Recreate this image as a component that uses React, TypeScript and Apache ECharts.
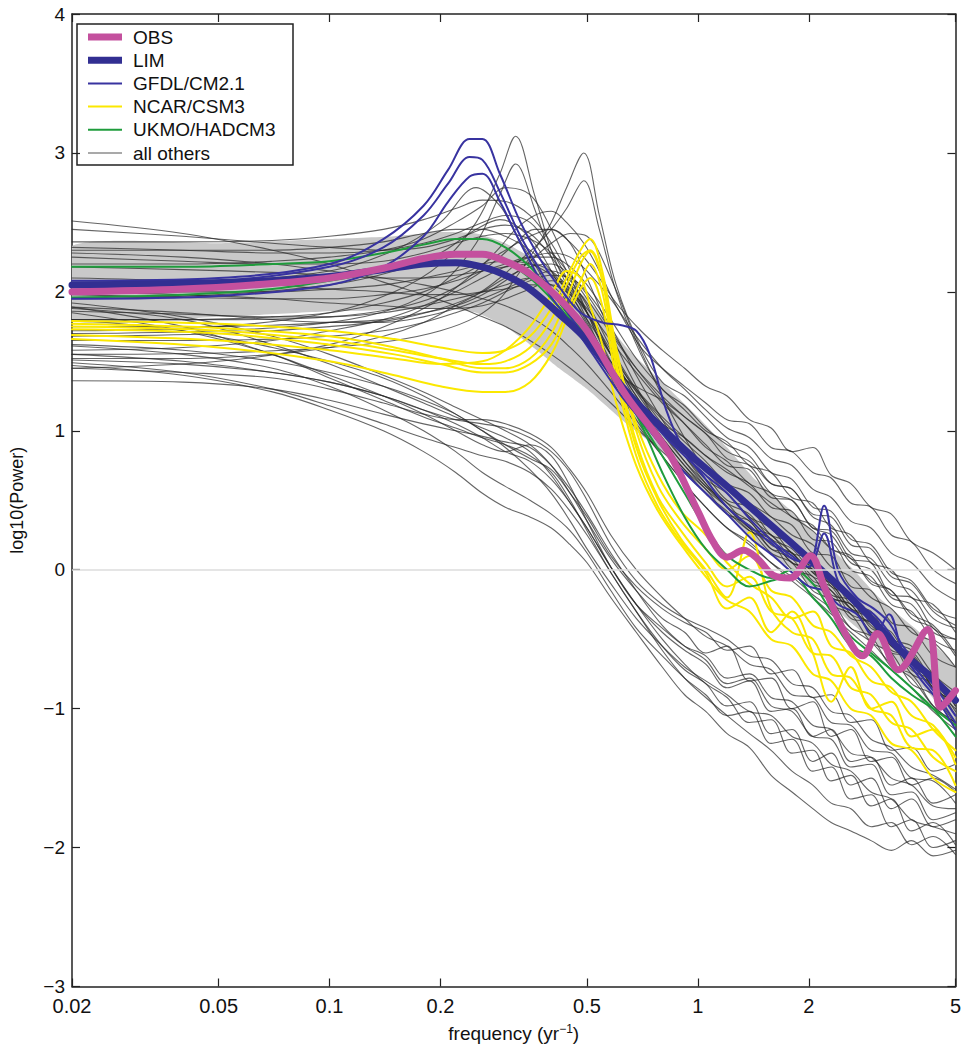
import React, { useEffect, useRef } from 'react';
import * as echarts from 'echarts';

const FONT = "'Liberation Sans', Arial, Helvetica, sans-serif";

const X_TICKS = [0.02, 0.05, 0.1, 0.2, 0.5, 1, 2, 5];

// common frequency grid for most model curves
const F = [0.02, 0.04, 0.07, 0.1, 0.14, 0.18, 0.22, 0.26, 0.3, 0.35, 0.4, 0.45, 0.5, 0.58, 0.68, 0.8, 0.92, 1.05, 1.2, 1.38, 1.58, 1.8, 2.05, 2.3, 2.6, 2.95, 3.35, 3.8, 4.35, 5.0];
// grid for peaked "other" curves
const FP = [0.02, 0.05, 0.1, 0.15, 0.2, 0.25, 0.29, 0.32, 0.36, 0.4, 0.44, 0.49, 0.54, 0.6, 0.7, 0.8, 0.92, 1.05, 1.2, 1.38, 1.58, 1.8, 2.05, 2.3, 2.6, 2.95, 3.35, 3.8, 4.35, 5.0];
// grid for GFDL curves
const FG = [0.02, 0.05, 0.1, 0.14, 0.18, 0.21, 0.24, 0.26, 0.29, 0.33, 0.38, 0.43, 0.48, 0.55, 0.62, 0.68, 0.74, 0.82, 0.92, 1.05, 1.2, 1.4, 1.6, 1.8, 2.0, 2.2, 2.4, 2.7, 3.0, 3.3, 3.6, 4.0, 4.5, 5.0];
// grid for NCAR curves
const FY = [0.02, 0.05, 0.1, 0.15, 0.2, 0.26, 0.3, 0.35, 0.4, 0.44, 0.48, 0.51, 0.55, 0.6, 0.68, 0.78, 0.9, 1.05, 1.2, 1.38, 1.58, 1.8, 2.05, 2.3, 2.6, 2.95, 3.35, 3.8, 4.35, 5.0];

const OBS_F = [0.02, 0.04, 0.07, 0.1, 0.14, 0.18, 0.22, 0.26, 0.3, 0.35, 0.42, 0.5, 0.64, 0.83, 1.0, 1.1, 1.2, 1.33, 1.45, 1.6, 1.78, 2.02, 2.2, 2.5, 2.8, 3.07, 3.5, 4.2, 4.56, 5.0];
const OBS_V = [2.0, 2.02, 2.06, 2.1, 2.17, 2.24, 2.27, 2.27, 2.22, 2.13, 1.95, 1.72, 1.25, 0.85, 0.42, 0.2, 0.09, 0.14, 0.08, -0.04, -0.06, 0.1, -0.12, -0.45, -0.62, -0.46, -0.72, -0.43, -0.99, -0.87];

const LIM_F = [0.02, 0.04, 0.07, 0.1, 0.14, 0.18, 0.22, 0.26, 0.3, 0.35, 0.42, 0.5, 0.64, 0.8, 0.96, 1.2, 1.43, 1.78, 2.2, 2.6, 3.07, 3.6, 4.2, 5.0];
const LIM_V = [2.05, 2.06, 2.08, 2.11, 2.16, 2.2, 2.21, 2.18, 2.12, 2.02, 1.84, 1.65, 1.28, 1.02, 0.82, 0.6, 0.42, 0.2, -0.02, -0.2, -0.4, -0.6, -0.75, -0.94];

const BAND_F = [0.02, 0.05, 0.1, 0.15, 0.2, 0.25, 0.3, 0.35, 0.42, 0.5, 0.64, 0.8, 1.0, 1.2, 1.43, 1.8, 2.2, 2.6, 3.1, 3.6, 4.2, 5.0];
const BAND_LO = [1.8, 1.82, 1.86, 1.87, 1.88, 1.85, 1.75, 1.62, 1.45, 1.3, 1.05, 0.85, 0.6, 0.4, 0.2, 0.0, -0.2, -0.38, -0.55, -0.72, -0.88, -1.1];
const BAND_HI = [2.33, 2.35, 2.38, 2.4, 2.43, 2.42, 2.35, 2.25, 2.1, 1.95, 1.6, 1.35, 1.1, 0.88, 0.65, 0.42, 0.2, 0.02, -0.2, -0.35, -0.5, -0.7];

const GFDL_1 = [2.08, 2.1, 2.2, 2.38, 2.62, 2.88, 3.1, 3.1, 2.85, 2.5, 2.2, 2.0, 1.85, 1.78, 1.76, 1.72, 1.55, 1.15, 0.85, 0.65, 0.45, 0.3, 0.18, 0.08, 0.05, 0.46, 0.0, -0.2, -0.28, -0.38, -0.55, -0.7, -0.88, -1.05];
const GFDL_2 = [2.06, 2.08, 2.18, 2.32, 2.55, 2.78, 2.97, 2.95, 2.72, 2.4, 2.12, 1.9, 1.72, 1.5, 1.3, 1.18, 1.08, 0.95, 0.82, 0.68, 0.55, 0.35, 0.2, 0.1, 0.02, 0.26, -0.08, -0.25, -0.32, -0.45, -0.6, -0.75, -0.92, -1.1];
const GFDL_3 = [1.95, 1.97, 2.05, 2.18, 2.4, 2.65, 2.83, 2.85, 2.65, 2.35, 2.05, 1.85, 1.68, 1.45, 1.25, 1.12, 1.0, 0.85, 0.7, 0.55, 0.4, 0.22, 0.1, -0.02, -0.12, -0.15, -0.25, -0.32, -0.48, -0.32, -0.6, -0.78, -0.95, -1.15];

const NCAR_1 = [1.79, 1.77, 1.72, 1.66, 1.6, 1.56, 1.58, 1.68, 1.88, 2.1, 2.3, 2.38, 2.15, 1.6, 1.0, 0.6, 0.35, 0.15, 0.0, 0.1, -0.15, -0.2, -0.4, -0.45, -0.62, -0.7, -0.88, -0.95, -1.15, -1.3];
const NCAR_2 = [1.77, 1.74, 1.68, 1.6, 1.52, 1.45, 1.45, 1.52, 1.7, 1.95, 2.2, 2.29, 2.08, 1.5, 0.92, 0.52, 0.28, 0.05, -0.12, -0.05, -0.3, -0.35, -0.6, -0.62, -0.85, -0.9, -1.1, -1.15, -1.35, -1.45];
const NCAR_3 = [1.73, 1.7, 1.62, 1.55, 1.48, 1.42, 1.42, 1.48, 1.62, 1.85, 2.08, 2.2, 2.0, 1.45, 0.88, 0.5, 0.22, 0.0, -0.2, 0.27, -0.28, -0.45, -0.5, -0.75, -0.78, -1.0, -1.05, -1.28, -1.3, -1.55];
const NCAR_4 = [1.69, 1.65, 1.58, 1.52, 1.48, 1.5, 1.58, 1.75, 1.98, 2.15, 2.1, 1.9, 1.62, 1.2, 0.75, 0.42, 0.18, -0.05, -0.22, -0.3, -0.5, -0.55, -0.75, -0.8, -1.0, -1.05, -1.25, -1.3, -1.5, -1.6];
const NCAR_5 = [1.66, 1.6, 1.5, 1.4, 1.32, 1.28, 1.28, 1.35, 1.55, 1.8, 2.02, 2.1, 1.9, 1.38, 0.82, 0.45, 0.2, -0.02, -0.28, -0.2, -0.45, -0.3, -0.6, -0.95, -0.7, -1.0, -0.95, -1.2, -1.15, -1.4];
const NCAR_6 = [1.75, 1.72, 1.65, 1.58, 1.52, 1.48, 1.5, 1.6, 1.8, 2.05, 2.25, 2.3, 2.1, 1.55, 1.05, 0.68, 0.42, 0.25, 0.05, -0.1, -0.2, -0.35, -0.3, -0.55, -0.6, -0.8, -0.85, -1.05, -1.12, -1.35];

const UKMO_1 = [2.18, 2.18, 2.2, 2.22, 2.28, 2.34, 2.38, 2.38, 2.32, 2.18, 2.0, 1.82, 1.68, 1.42, 1.12, 0.7, 0.38, 0.15, 0.0, -0.12, -0.08, -0.04, -0.2, -0.35, -0.55, -0.62, -0.78, -0.9, -1.0, -1.12];
const UKMO_2 = [1.96, 1.98, 2.02, 2.08, 2.15, 2.22, 2.27, 2.28, 2.22, 2.1, 1.95, 1.8, 1.65, 1.4, 1.12, 0.82, 0.55, 0.3, 0.1, 0.0, -0.06, 0.0, -0.1, -0.3, -0.48, -0.6, -0.72, -0.85, -1.0, -1.2];

// other models, lower (steeply falling) group, on grid F
const LOW_1 = [1.88, 1.8, 1.62, 1.48, 1.32, 1.2, 1.1, 1.02, 0.95, 0.85, 0.68, 0.48, 0.3, 0.02, -0.25, -0.45, -0.58, -0.68, -0.85, -0.8, -1.02, -1.0, -1.2, -1.15, -1.38, -1.35, -1.55, -1.5, -1.68, -1.62];
const LOW_2 = [1.92, 1.82, 1.68, 1.55, 1.4, 1.28, 1.17, 1.08, 1.0, 0.9, 0.75, 0.55, 0.35, 0.08, -0.15, -0.35, -0.45, -0.6, -0.55, -0.8, -0.78, -1.0, -0.95, -1.2, -1.15, -1.38, -1.35, -1.55, -1.5, -1.6];
const LOW_3 = [1.85, 1.72, 1.55, 1.38, 1.22, 1.1, 1.02, 0.95, 0.9, 0.82, 0.7, 0.5, 0.28, -0.02, -0.3, -0.55, -0.72, -0.82, -0.98, -0.95, -1.18, -1.15, -1.38, -1.32, -1.55, -1.5, -1.72, -1.65, -1.85, -1.8];
const LOW_4 = [1.36, 1.35, 1.3, 1.22, 1.12, 1.05, 1.0, 0.96, 0.92, 0.88, 0.75, 0.58, 0.4, 0.12, -0.15, -0.4, -0.55, -0.65, -0.82, -0.78, -0.98, -1.02, -1.2, -1.22, -1.42, -1.4, -1.62, -1.6, -1.8, -1.75];
const LOW_5 = [1.47, 1.4, 1.28, 1.15, 1.0, 0.85, 0.7, 0.55, 0.45, 0.38, 0.3, 0.18, 0.05, -0.2, -0.45, -0.7, -0.9, -1.02, -1.18, -1.28, -1.48, -1.6, -1.72, -1.82, -1.88, -1.95, -2.02, -1.95, -2.06, -2.02];
const LOW_6 = [1.49, 1.42, 1.3, 1.18, 1.05, 0.95, 0.88, 0.82, 0.78, 0.7, 0.58, 0.42, 0.25, -0.02, -0.3, -0.58, -0.78, -0.92, -1.05, -1.18, -1.3, -1.45, -1.55, -1.68, -1.72, -1.85, -1.82, -1.98, -1.92, -2.05];
const LOW_7 = [1.51, 1.48, 1.42, 1.35, 1.25, 1.15, 1.05, 0.95, 0.85, 0.78, 0.65, 0.48, 0.3, 0.02, -0.25, -0.5, -0.68, -0.82, -0.92, -1.1, -1.08, -1.32, -1.3, -1.52, -1.48, -1.7, -1.65, -1.88, -1.82, -1.98];
const LOW_8 = [1.61, 1.55, 1.45, 1.32, 1.15, 1.0, 0.85, 0.7, 0.6, 0.5, 0.4, 0.28, 0.12, -0.15, -0.42, -0.62, -0.78, -0.9, -1.05, -1.02, -1.25, -1.22, -1.45, -1.42, -1.65, -1.62, -1.85, -1.8, -2.0, -1.95];
const LOW_9 = [1.89, 1.75, 1.55, 1.4, 1.25, 1.12, 1.0, 0.9, 0.85, 0.9, 0.82, 0.6, 0.35, 0.02, -0.25, -0.42, -0.55, -0.62, -0.78, -0.75, -0.92, -0.95, -1.12, -1.15, -1.32, -1.35, -1.5, -1.55, -1.7, -1.72];
const LOW_10 = [1.8, 1.72, 1.6, 1.5, 1.38, 1.25, 1.12, 1.0, 0.9, 0.8, 0.72, 0.55, 0.38, 0.1, -0.12, -0.28, -0.38, -0.45, -0.58, -0.55, -0.75, -0.72, -0.92, -0.9, -1.1, -1.08, -1.3, -1.28, -1.45, -1.4];
const LOW_11 = [1.55, 1.5, 1.42, 1.35, 1.25, 1.15, 1.08, 1.05, 1.02, 0.95, 0.85, 0.7, 0.5, 0.18, -0.08, -0.25, -0.35, -0.42, -0.5, -0.62, -0.65, -0.82, -0.85, -1.02, -1.05, -1.22, -1.28, -1.42, -1.48, -1.58];
const LOW_12 = [1.45, 1.42, 1.38, 1.3, 1.2, 1.12, 1.08, 1.08, 1.05, 0.98, 0.88, 0.72, 0.55, 0.25, 0.0, -0.2, -0.35, -0.48, -0.55, -0.68, -0.72, -0.9, -0.92, -1.1, -1.12, -1.3, -1.32, -1.5, -1.52, -1.68];
const LOW_13 = [1.62, 1.58, 1.5, 1.42, 1.32, 1.22, 1.12, 1.0, 0.88, 0.72, 0.55, 0.35, 0.15, -0.1, -0.35, -0.55, -0.7, -0.8, -0.9, -1.02, -1.05, -1.2, -1.25, -1.4, -1.45, -1.6, -1.65, -1.8, -1.85, -1.9];

// other models, middle group, on grid F
const MID_1 = [2.51, 2.42, 2.3, 2.2, 2.07, 1.98, 1.9, 1.82, 1.75, 1.65, 1.55, 1.45, 1.35, 1.2, 1.02, 0.85, 0.7, 0.55, 0.4, 0.32, 0.15, 0.08, -0.1, -0.15, -0.35, -0.38, -0.6, -0.62, -0.85, -0.95];
const MID_2 = [2.45, 2.4, 2.35, 2.32, 2.3, 2.32, 2.38, 2.45, 2.48, 2.42, 2.25, 2.05, 1.85, 1.55, 1.25, 0.98, 0.78, 0.62, 0.45, 0.35, 0.18, 0.12, -0.05, -0.1, -0.28, -0.32, -0.5, -0.55, -0.75, -0.88];
const MID_3 = [2.36, 2.36, 2.37, 2.4, 2.45, 2.52, 2.6, 2.66, 2.65, 2.55, 2.35, 2.1, 1.85, 1.5, 1.2, 0.95, 0.75, 0.6, 0.48, 0.3, 0.25, 0.08, 0.02, -0.18, -0.22, -0.42, -0.48, -0.7, -0.78, -0.98];
const MID_4 = [2.32, 2.3, 2.28, 2.28, 2.3, 2.35, 2.42, 2.5, 2.55, 2.5, 2.3, 2.05, 1.8, 1.45, 1.15, 0.9, 0.72, 0.55, 0.42, 0.28, 0.22, 0.05, 0.0, -0.2, -0.25, -0.45, -0.52, -0.75, -0.82, -1.05];
const MID_5 = [2.2, 2.2, 2.22, 2.25, 2.3, 2.38, 2.5, 2.62, 2.75, 2.7, 2.45, 2.15, 1.85, 1.48, 1.18, 0.92, 0.72, 0.58, 0.4, 0.35, 0.15, 0.12, -0.08, -0.12, -0.32, -0.38, -0.58, -0.62, -0.85, -0.95];
const MID_6 = [2.18, 2.16, 2.14, 2.12, 2.1, 2.1, 2.12, 2.15, 2.18, 2.2, 2.15, 2.02, 1.85, 1.55, 1.25, 1.0, 0.82, 0.68, 0.5, 0.45, 0.25, 0.2, 0.0, -0.05, -0.25, -0.3, -0.52, -0.58, -0.8, -0.9];
const MID_7 = [2.1, 2.08, 2.05, 2.02, 2.0, 1.98, 1.98, 2.0, 2.02, 2.05, 2.05, 1.98, 1.85, 1.58, 1.28, 1.02, 0.82, 0.65, 0.55, 0.38, 0.3, 0.12, 0.08, -0.12, -0.18, -0.38, -0.45, -0.68, -0.75, -0.98];
const MID_8 = [2.0, 1.98, 1.95, 1.92, 1.9, 1.88, 1.88, 1.9, 1.95, 2.02, 2.08, 2.05, 1.92, 1.6, 1.3, 1.05, 0.85, 0.65, 0.48, 0.4, 0.22, 0.15, -0.02, -0.1, -0.28, -0.35, -0.55, -0.6, -0.82, -0.92];
const MID_9 = [1.89, 1.85, 1.8, 1.78, 1.78, 1.82, 1.88, 1.95, 2.02, 2.1, 2.15, 2.08, 1.9, 1.55, 1.22, 0.95, 0.75, 0.58, 0.45, 0.3, 0.22, 0.05, 0.0, -0.2, -0.25, -0.45, -0.5, -0.72, -0.8, -1.02];
const MID_10 = [1.86, 1.84, 1.82, 1.82, 1.85, 1.9, 1.95, 2.0, 2.05, 2.1, 2.05, 1.9, 1.7, 1.38, 1.08, 0.82, 0.62, 0.45, 0.3, 0.2, 0.05, -0.05, -0.18, -0.28, -0.42, -0.52, -0.68, -0.78, -0.98, -1.1];
const MID_11 = [1.8, 1.8, 1.82, 1.85, 1.92, 2.0, 2.1, 2.2, 2.3, 2.4, 2.45, 2.35, 2.1, 1.7, 1.32, 1.0, 0.78, 0.6, 0.45, 0.28, 0.2, 0.0, -0.05, -0.25, -0.32, -0.52, -0.6, -0.82, -0.9, -1.12];
const MID_12 = [1.75, 1.75, 1.76, 1.78, 1.8, 1.85, 1.9, 1.98, 2.08, 2.22, 2.35, 2.42, 2.4, 2.1, 1.65, 1.25, 0.95, 0.72, 0.55, 0.38, 0.25, 0.12, -0.02, -0.15, -0.28, -0.4, -0.55, -0.68, -0.85, -1.0];
const MID_13 = [2.28, 2.25, 2.2, 2.15, 2.1, 2.05, 2.0, 1.95, 1.9, 1.82, 1.72, 1.6, 1.48, 1.28, 1.05, 0.82, 0.62, 0.45, 0.3, 0.18, 0.05, -0.08, -0.2, -0.32, -0.45, -0.58, -0.72, -0.85, -1.02, -1.15];
const MID_14 = [1.65, 1.65, 1.66, 1.68, 1.72, 1.78, 1.85, 1.92, 2.0, 2.08, 2.12, 2.1, 2.0, 1.75, 1.4, 1.08, 0.82, 0.62, 0.45, 0.3, 0.12, 0.05, -0.15, -0.22, -0.42, -0.48, -0.7, -0.75, -0.98, -1.1];

// other models, upper group, on grid F
const UP_1 = [2.25, 2.22, 2.2, 2.2, 2.22, 2.28, 2.35, 2.4, 2.42, 2.38, 2.28, 2.12, 1.95, 1.7, 1.45, 1.25, 1.1, 0.98, 0.85, 0.78, 0.62, 0.58, 0.4, 0.38, 0.18, 0.15, -0.05, -0.1, -0.3, -0.4];
const UP_2 = [1.98, 1.96, 1.95, 1.95, 1.98, 2.02, 2.08, 2.15, 2.2, 2.25, 2.25, 2.18, 2.05, 1.8, 1.52, 1.3, 1.15, 1.0, 0.92, 0.75, 0.7, 0.52, 0.48, 0.3, 0.25, 0.05, 0.0, -0.2, -0.25, -0.45];
const UP_3 = [1.58, 1.6, 1.65, 1.72, 1.8, 1.9, 2.0, 2.1, 2.18, 2.25, 2.28, 2.25, 2.15, 1.95, 1.68, 1.45, 1.3, 1.15, 1.02, 0.95, 0.8, 0.75, 0.58, 0.52, 0.35, 0.3, 0.12, 0.05, -0.12, -0.22];
const UP_4 = [2.3, 2.3, 2.3, 2.32, 2.36, 2.42, 2.45, 2.45, 2.4, 2.3, 2.15, 1.98, 1.8, 1.55, 1.3, 1.1, 0.95, 0.82, 0.72, 0.6, 0.48, 0.38, 0.28, 0.15, 0.08, -0.08, -0.15, -0.32, -0.4, -0.6];
const UP_5 = [1.52, 1.52, 1.55, 1.6, 1.68, 1.78, 1.9, 2.0, 2.1, 2.18, 2.2, 2.12, 1.98, 1.72, 1.45, 1.22, 1.05, 0.88, 0.78, 0.62, 0.55, 0.38, 0.32, 0.15, 0.1, -0.1, -0.15, -0.35, -0.42, -0.62];
const UP_6 = [2.0, 2.0, 2.0, 2.02, 2.05, 2.1, 2.15, 2.2, 2.22, 2.2, 2.12, 2.0, 1.88, 1.65, 1.42, 1.2, 1.05, 0.9, 0.75, 0.72, 0.52, 0.5, 0.3, 0.28, 0.08, 0.05, -0.18, -0.2, -0.42, -0.5];

// other models with sharp spectral peaks, on grid FP
const PEAK_1 = [1.72, 1.75, 1.85, 2.0, 2.2, 2.5, 2.85, 3.12, 2.7, 2.3, 2.05, 1.82, 1.62, 1.42, 1.3, 1.22, 1.1, 0.98, 0.8, 0.75, 0.55, 0.5, 0.3, 0.25, 0.05, 0.0, -0.2, -0.25, -0.45, -0.5];
const PEAK_2 = [1.55, 1.56, 1.6, 1.65, 1.72, 1.82, 1.95, 2.1, 2.3, 2.5, 2.75, 3.0, 2.55, 2.05, 1.6, 1.35, 1.25, 1.1, 0.95, 0.88, 0.7, 0.65, 0.45, 0.42, 0.22, 0.18, -0.02, -0.08, -0.28, -0.35];
const PEAK_3 = [1.68, 1.7, 1.75, 1.8, 1.88, 1.98, 2.1, 2.2, 2.32, 2.45, 2.6, 2.8, 2.45, 2.0, 1.55, 1.3, 1.18, 1.02, 0.9, 0.82, 0.62, 0.58, 0.38, 0.32, 0.12, 0.08, -0.1, -0.15, -0.35, -0.42];
const PEAK_4 = [1.45, 1.5, 1.62, 1.78, 1.95, 2.15, 2.32, 2.45, 2.55, 2.58, 2.5, 2.35, 2.15, 1.9, 1.6, 1.45, 1.32, 1.2, 1.08, 1.05, 0.88, 0.85, 0.7, 0.66, 0.48, 0.45, 0.25, 0.2, 0.0, -0.1];
const PEAK_5 = [1.8, 1.8, 1.82, 1.88, 1.98, 2.12, 2.25, 2.35, 2.45, 2.45, 2.38, 2.25, 2.1, 1.92, 1.72, 1.58, 1.45, 1.32, 1.25, 1.08, 1.02, 0.85, 0.88, 0.68, 0.62, 0.45, 0.4, 0.2, 0.12, 0.0];
const PEAK_6 = [2.05, 2.08, 2.15, 2.3, 2.5, 2.75, 2.62, 2.42, 2.2, 2.0, 1.85, 1.72, 1.6, 1.45, 1.25, 1.08, 0.92, 0.78, 0.62, 0.55, 0.38, 0.32, 0.12, 0.1, -0.12, -0.15, -0.38, -0.42, -0.62, -0.7];
const PEAK_7 = [1.95, 1.98, 2.05, 2.15, 2.28, 2.45, 2.52, 2.48, 2.35, 2.15, 1.95, 1.75, 1.58, 1.4, 1.18, 1.0, 0.85, 0.72, 0.6, 0.48, 0.38, 0.25, 0.18, 0.02, -0.05, -0.2, -0.28, -0.45, -0.52, -0.7];
const PEAK_8 = [1.7, 1.72, 1.78, 1.88, 2.05, 2.35, 2.7, 2.92, 2.6, 2.25, 2.0, 1.8, 1.6, 1.4, 1.2, 1.05, 0.95, 0.82, 0.7, 0.62, 0.45, 0.42, 0.22, 0.2, 0.0, -0.05, -0.25, -0.3, -0.5, -0.58];

const OTHERS_F = [LOW_1, LOW_2, LOW_3, LOW_4, LOW_5, LOW_6, LOW_7, LOW_8, LOW_9, LOW_10, LOW_11, LOW_12, LOW_13,
  MID_1, MID_2, MID_3, MID_4, MID_5, MID_6, MID_7, MID_8, MID_9, MID_10, MID_11, MID_12, MID_13, MID_14,
  UP_1, UP_2, UP_3, UP_4, UP_5, UP_6];
const OTHERS_P = [PEAK_1, PEAK_2, PEAK_3, PEAK_4, PEAK_5, PEAK_6, PEAK_7, PEAK_8];
const NCAR = [NCAR_1, NCAR_2, NCAR_3, NCAR_4, NCAR_5, NCAR_6];
const UKMO = [UKMO_1, UKMO_2];
const GFDL = [GFDL_1, GFDL_2, GFDL_3];

const C_OBS = '#c4509e';
const C_LIM = '#322f92';
const C_GFDL = '#3833a0';
const C_NCAR = '#fbe800';
const C_UKMO = '#1f9c3c';
const C_OTHER = '#2a2a2a';

const LEGEND_ITEMS = [
  { name: 'OBS', color: C_OBS, width: 7 },
  { name: 'LIM', color: C_LIM, width: 7 },
  { name: 'GFDL/CM2.1', color: C_GFDL, width: 2 },
  { name: 'NCAR/CSM3', color: C_NCAR, width: 2 },
  { name: 'UKMO/HADCM3', color: C_UKMO, width: 2 },
  { name: 'all others', color: '#555', width: 1.2 },
];

function pairs(grid: number[], vals: number[]) {
  return vals.slice(0, grid.length).map((v, i) => [grid[i], v]);
}

function lineSeries(name: string, grid: number[], vals: number[], color: string, width: number, opacity = 1) {
  return {
    type: 'line',
    name,
    data: pairs(grid, vals),
    smooth: 0.35,
    symbol: 'none',
    showSymbol: false,
    silent: true,
    lineStyle: { color, width, opacity, cap: 'round', join: 'round' },
    itemStyle: { color },
  };
}

function buildOption() {
  const series: any[] = [];
  series.push({
    type: 'custom',
    name: 'band',
    silent: true,
    data: BAND_F.map((f, i) => [f, BAND_LO[i], BAND_HI[i]]),
    encode: { x: 0, y: [1, 2] },
    renderItem: (params: any, api: any) => {
      if (params.dataIndex !== 0) return { type: 'group', children: [] };
      const top = BAND_F.map((f, i) => api.coord([f, BAND_HI[i]]));
      const bot = BAND_F.map((f, i) => api.coord([f, BAND_LO[i]])).reverse();
      const pts = top.concat(bot);
      const xs = pts.map((p: number[]) => p[0]);
      const ys = pts.map((p: number[]) => p[1]);
      return {
        type: 'polygon',
        shape: {
          points: pts,
          smooth: 0.2,
          smoothConstraint: [[Math.min(...xs), Math.min(...ys)], [Math.max(...xs), Math.max(...ys)]],
        },
        style: { fill: '#c9c9c9' },
      };
    },
  });
  series.push({
    type: 'line',
    name: 'zero',
    data: [],
    silent: true,
    markLine: {
      silent: true,
      symbol: 'none',
      label: { show: false },
      lineStyle: { color: '#dcdcdc', width: 1.5, type: 'solid' },
      data: [{ yAxis: 0 }],
    },
  });
  OTHERS_F.forEach((v) => series.push(lineSeries('all others', F, v, C_OTHER, 1.1, 0.72)));
  OTHERS_P.forEach((v) => series.push(lineSeries('all others', FP, v, C_OTHER, 1.1, 0.72)));
  NCAR.forEach((v) => series.push(lineSeries('NCAR/CSM3', FY, v, C_NCAR, 2)));
  UKMO.forEach((v) => series.push(lineSeries('UKMO/HADCM3', F, v, C_UKMO, 2)));
  GFDL.forEach((v) => series.push(lineSeries('GFDL/CM2.1', FG, v, C_GFDL, 2)));
  series.push(lineSeries('LIM', LIM_F, LIM_V, C_LIM, 7));
  series.push(lineSeries('OBS', OBS_F, OBS_V, C_OBS, 7));

  const fmtX = (v: number) => String(Number(Number(v).toPrecision(2)));
  const fmtY = (v: number) => String(v).replace('-', '\u2212');
  const axisLine = { show: true, onZero: false, lineStyle: { color: '#222', width: 1.5 } };

  const legendChildren: any[] = [
    { type: 'rect', shape: { x: 0, y: 0, width: 216, height: 141 }, style: { fill: '#fff', stroke: '#222', lineWidth: 1.5 } },
  ];
  LEGEND_ITEMS.forEach((it, i) => {
    const y = 13 + i * 23.2;
    legendChildren.push({ type: 'line', shape: { x1: 11, y1: y, x2: 45, y2: y }, style: { stroke: it.color, lineWidth: it.width } });
    legendChildren.push({
      type: 'text', x: 56, y,
      style: { text: it.name, fontSize: 19, fontFamily: FONT, fill: '#111', verticalAlign: 'middle', align: 'left' },
    });
  });

  return {
    animation: false,
    backgroundColor: '#fff',
    grid: { left: 68, right: 4, top: 14, bottom: 59, containLabel: false },
    xAxis: [
      {
        type: 'log', logBase: 10, min: 0.02, max: 5, position: 'bottom',
        name: 'frequency (yr{sup|\u22121})', nameLocation: 'middle', nameGap: 36,
        nameTextStyle: {
          fontSize: 19, fontFamily: FONT, color: '#111',
          rich: { sup: { fontSize: 12, fontFamily: FONT, color: '#111', padding: [0, 0, 10, 0] } },
        },
        axisLine,
        axisTick: { show: true, inside: true, length: 8, customValues: X_TICKS, lineStyle: { color: '#222', width: 1.2 } },
        minorTick: { show: false },
        axisLabel: { show: true, customValues: X_TICKS, formatter: fmtX, fontSize: 20, fontFamily: FONT, color: '#111', margin: 9 },
        splitLine: { show: false },
      },
      {
        type: 'log', logBase: 10, min: 0.02, max: 5, position: 'top',
        axisLine,
        axisTick: { show: true, inside: true, length: 8, customValues: X_TICKS, lineStyle: { color: '#222', width: 1.2 } },
        minorTick: { show: false },
        axisLabel: { show: false },
        splitLine: { show: false },
      },
    ],
    yAxis: [
      {
        type: 'value', min: -3, max: 4, interval: 1, position: 'left',
        name: 'log10(Power)', nameLocation: 'middle', nameGap: 46,
        nameTextStyle: { fontSize: 18, fontFamily: FONT, color: '#111' },
        axisLine,
        axisTick: { show: true, inside: true, length: 8, lineStyle: { color: '#222', width: 1.2 } },
        axisLabel: { formatter: fmtY, fontSize: 19, fontFamily: FONT, color: '#111', margin: 7 },
        splitLine: { show: false },
      },
      {
        type: 'value', min: -3, max: 4, interval: 1, position: 'right',
        axisLine,
        axisTick: { show: true, inside: true, length: 8, lineStyle: { color: '#222', width: 1.2 } },
        axisLabel: { show: false },
        splitLine: { show: false },
      },
    ],
    graphic: [{ type: 'group', x: 77, y: 24, z: 100, children: legendChildren }],
    series,
  };
}

export default function App() {
  const ref = useRef<HTMLDivElement>(null);
  useEffect(() => {
    if (!ref.current) return;
    const chart = echarts.init(ref.current, null, { renderer: 'svg' });
    chart.setOption(buildOption() as any);
    return () => chart.dispose();
  }, []);
  return <div ref={ref} style={{ position: 'absolute', left: 0, top: 0, width: 964, height: 1048, background: '#fff' }} />;
}
